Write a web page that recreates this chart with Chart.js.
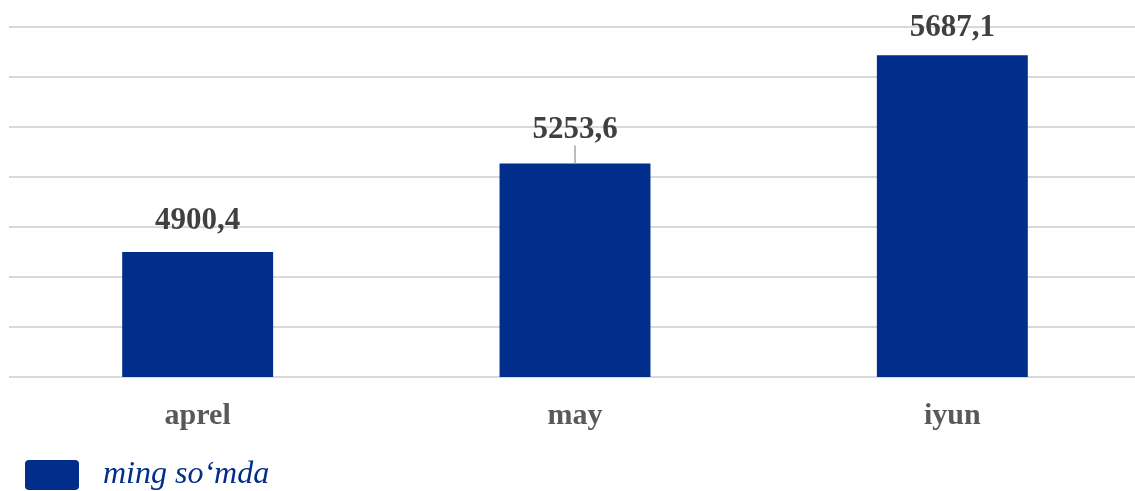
<!DOCTYPE html>
<html>
<head>
<meta charset="utf-8">
<script src="https://cdn.jsdelivr.net/npm/chart.js@4"></script>
<style>
  html, body { margin: 0; padding: 0; background: #fff; overflow: hidden; }
  #wrap { position: relative; width: 1141px; height: 501px; }
</style>
</head>
<body>
<div id="wrap"><canvas id="chart"></canvas></div>
<script>
const categories = ['aprel', 'may', 'iyun'];
const values = [4900.4, 5253.6, 5687.1];
const seriesLabel = 'ming so‘mda';
const yMin = 4400;
const yMax = 5800;
const yStep = 200;

const barColor = '#002e8a';

// value labels above bars, comma decimal
const valueLabels = {
  id: 'valueLabels',
  afterLayout(chart) {
    // nudge legend a bit right of the plot edge
    chart.legend.left += 4;
  },
  afterDatasetsDraw(chart, args, opts) {
    const ctx = chart.ctx;
    const meta = chart.getDatasetMeta(0);
    ctx.save();
    ctx.font = 'bold 31px "Liberation Serif"';
    ctx.fillStyle = '#404040';
    ctx.textAlign = 'center';
    ctx.textBaseline = 'middle';
    meta.data.forEach((bar, i) => {
      const off = opts.offsets[i];
      const txt = values[i].toFixed(1).replace('.', ',');
      ctx.fillText(txt, bar.x, bar.y - off);
      if (opts.leaders[i]) {
        ctx.strokeStyle = '#a6a6a6';
        ctx.lineWidth = 1.5;
        ctx.beginPath();
        ctx.moveTo(bar.x, bar.y - 18);
        ctx.lineTo(bar.x, bar.y);
        ctx.stroke();
      }
    });
    ctx.restore();
  }
};

const canvas = document.getElementById('chart');
canvas.width = 1141;
canvas.height = 501;
const ctx = canvas.getContext('2d');

new Chart(ctx, {
  type: 'bar',
  data: {
    labels: categories,
    datasets: [{
      label: seriesLabel,
      data: values,
      backgroundColor: barColor,
      borderWidth: 0,
      categoryPercentage: 1,
      barPercentage: 0.4
    }]
  },
  options: {
    responsive: false,
    animation: false,
    layout: { padding: { top: 27, left: 9, right: 0, bottom: 0 } },
    plugins: {
      legend: {
        position: 'bottom',
        align: 'start',
        labels: {
          boxWidth: 54,
          boxHeight: 30,
          color: barColor,
          font: { family: '"Liberation Serif"', style: 'italic', size: 32 },
          padding: 12,
          useBorderRadius: true,
          borderRadius: 4,
          generateLabels(chart) {
            const items = Chart.defaults.plugins.legend.labels.generateLabels(chart);
            items.forEach(it => { it.text = ' ' + it.text; });
            return items;
          }
        }
      },
      tooltip: { enabled: false },
      valueLabels: { offsets: [31, 34, 27], leaders: [false, true, false] }
    },
    scales: {
      x: {
        grid: { display: false },
        border: { display: false },
        ticks: {
          color: '#595959',
          font: { family: '"Liberation Serif"', weight: 'bold', size: 30 },
          padding: 13
        }
      },
      y: {
        min: yMin,
        max: yMax,
        ticks: { stepSize: yStep, display: false },
        grid: { color: '#d9d9d9', lineWidth: 2, drawTicks: false },
        border: { display: false }
      }
    }
  },
  plugins: [valueLabels]
});
</script>
</body>
</html>
